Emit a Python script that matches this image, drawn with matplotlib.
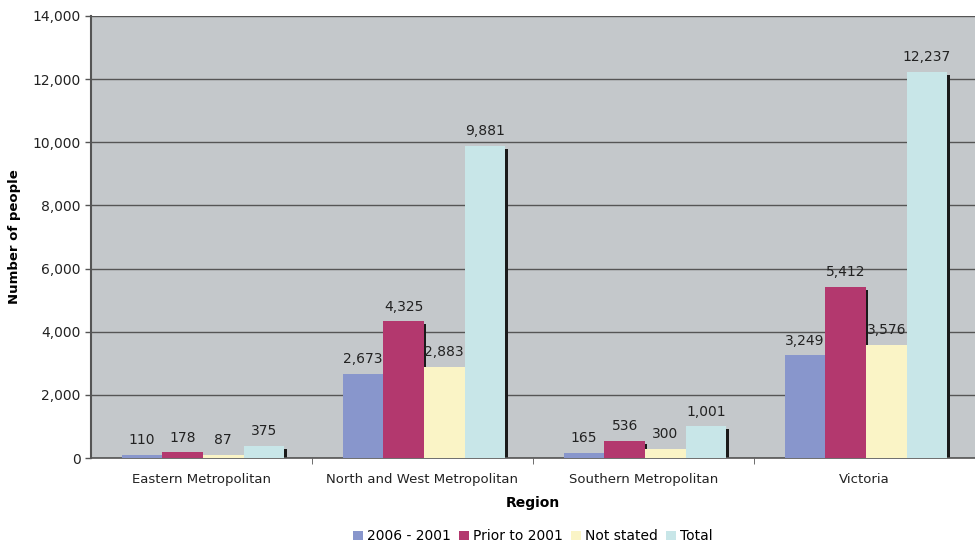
import numpy as np
import matplotlib.pyplot as plt
from matplotlib.ticker import FuncFormatter, FixedLocator

# data
regions = ["Eastern Metropolitan", "North and West Metropolitan",
           "Southern Metropolitan", "Victoria"]
series_names = ["2006 - 2001", "Prior to 2001", "Not stated", "Total"]
recent = [110, 2673, 165, 3249]
prior = [178, 4325, 536, 5412]
not_stated = [87, 2883, 300, 3576]
total = [375, 9881, 1001, 12237]
colors = ["#8896CC", "#B3386E", "#FAF4C6", "#C8E6E8"]

plt.rcParams['font.family'] = ['DejaVu Sans']

fig = plt.figure(figsize=(9.75, 5.44), dpi=100)
ax = fig.add_axes([0.0933, 0.158, 0.9067, 0.8127])
ax.set_facecolor("#C4C8CB")

x = np.arange(len(regions))
width = 0.184
values = [recent, prior, not_stated, total]
px = 1.0 / 223  # one pixel in category units
for i, (vals, col, name) in enumerate(zip(values, colors, series_names)):
    pos = x + (i - 1.5) * width + 1.5 * px
    # thin dark shadow on the right edge of each bar
    ax.bar(pos + width / 2 + 1.2 * px, np.array(vals) - 95, width=2.4 * px,
           bottom=0, color="#1a1a1a", zorder=2, linewidth=0)
    ax.bar(pos, vals, width=width, color=col, label=name, zorder=3, linewidth=0)
    for p, v in zip(pos, vals):
        ax.text(p, v + 250, f"{v:,}", ha="center", va="bottom",
                fontsize=10, color="#222222", zorder=5)

ax.set_xlim(-0.5, len(regions) - 0.5)
ax.set_ylim(0, 14000)
ax.set_yticks(np.arange(0, 14001, 2000))
ax.yaxis.set_major_formatter(FuncFormatter(lambda v, _: f"{int(v):,}"))
ax.grid(axis="y", color="#555555", linewidth=1.0, zorder=1)
ax.set_axisbelow(True)

ax.set_xticks(x)
ax.set_xticklabels(regions, fontsize=9.5, color="#222222")
ax.tick_params(axis="x", length=0, pad=11)
ax.xaxis.set_minor_locator(FixedLocator(x[:-1] + 0.5))
ax.tick_params(axis="x", which="minor", length=4, color="#555555")
ax.tick_params(axis="y", labelsize=10, labelcolor="#222222", length=4,
               color="#555555", width=1)

for side in ["top", "right"]:
    ax.spines[side].set_visible(False)
ax.spines["left"].set_color("#555555")
ax.spines["left"].set_linewidth(1.5)
ax.spines["bottom"].set_color("#555555")
ax.spines["bottom"].set_linewidth(1.2)

ax.set_xlabel("Region", fontsize=10, fontweight="bold", labelpad=7)
ax.set_ylabel("Number of people", fontsize=9.5, fontweight="bold")
ax.yaxis.set_label_coords(-0.079, 0.5)

ax.legend(loc="center", bbox_to_anchor=(0.5, -0.177), ncol=4,
          frameon=False, fontsize=10, handlelength=0.7, handleheight=0.7,
          handletextpad=0.3, columnspacing=0.6, borderaxespad=0, borderpad=0)

plt.savefig("out.png", facecolor="white")
